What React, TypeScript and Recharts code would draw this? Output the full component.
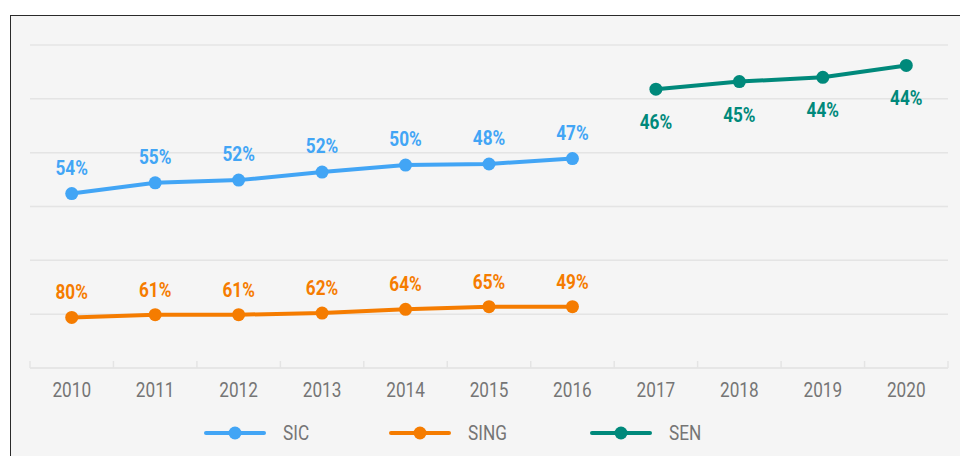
import React from 'react';
import { LineChart, Line, XAxis, YAxis, CartesianGrid, Legend, LabelList } from 'recharts';

const years = ['2010', '2011', '2012', '2013', '2014', '2015', '2016', '2017', '2018', '2019', '2020'];
const sicValues = [32.4, 34.4, 34.9, 36.4, 37.7, 37.9, 38.9, null, null, null, null];
const singValues = [9.4, 9.9, 9.9, 10.2, 10.9, 11.4, 11.4, null, null, null, null];
const senValues = [null, null, null, null, null, null, null, 51.8, 53.2, 54.0, 56.2];
const sicLabels = ['54%', '55%', '52%', '52%', '50%', '48%', '47%', null, null, null, null];
const singLabels = ['80%', '61%', '61%', '62%', '64%', '65%', '49%', null, null, null, null];
const senLabels = [null, null, null, null, null, null, null, '46%', '45%', '44%', '44%'];
const yTicks = [0, 10, 20, 30, 40, 50, 60];
const seriesOrder = ['SIC', 'SING', 'SEN'];

const BLUE = '#42A5F5';
const ORANGE = '#F57C00';
const TEAL = '#00897B';
const GRID = '#e4e4e4';
const TEXT = '#757575';
const SCALE_X = 0.86;

const data = years.map((year, i) => ({
  year,
  SIC: sicValues[i],
  SING: singValues[i],
  SEN: senValues[i],
  sicLabel: sicLabels[i],
  singLabel: singLabels[i],
  senLabel: senLabels[i],
}));

const condensed = (x: number) => `translate(${x} 0) scale(${SCALE_X} 1) translate(${-x} 0)`;

const makeLabel = (color: string, dy: number) => (props: any) => {
  const vb = props.viewBox || {};
  const x = props.x ?? vb.x;
  const y = props.y ?? vb.y;
  const value = props.value;
  if (value == null || x == null || y == null) return null;
  return (
    <text
      x={x}
      y={y + dy}
      textAnchor="middle"
      fill={color}
      fontFamily="Roboto"
      fontWeight={700}
      fontSize={20}
      transform={condensed(x)}
    >
      {value}
    </text>
  );
};

const XTick = (props: any) => {
  const { x, y, payload, index } = props;
  const half = payload && typeof payload.offset === 'number' && payload.offset > 0 ? payload.offset : 41.7;
  return (
    <g>
      <line x1={x - half} x2={x - half} y1={y} y2={y - 7} stroke={GRID} strokeWidth={1.5} />
      {index === years.length - 1 && (
        <line x1={x + half} x2={x + half} y1={y} y2={y - 7} stroke={GRID} strokeWidth={1.5} />
      )}
      <text
        x={x}
        y={y + 29}
        textAnchor="middle"
        fill={TEXT}
        fontFamily="Roboto"
        fontSize={20}
        transform={condensed(x)}
      >
        {payload.value}
      </text>
    </g>
  );
};

const EmptyTick = () => <g />;

const renderLegend = (props: any) => {
  const items = [...(props.payload || [])].sort(
    (a: any, b: any) => seriesOrder.indexOf(a.value) - seriesOrder.indexOf(b.value)
  );
  return (
    <div style={{ display: 'flex', alignItems: 'center', paddingLeft: 204, height: 24 }}>
      {items.map((it: any, i: number) => (
        <div key={i} style={{ display: 'flex', alignItems: 'center', marginRight: 76 }}>
          <svg width={62} height={24} style={{ display: 'block' }}>
            <line x1={2} x2={60} y1={12} y2={12} stroke={it.color} strokeWidth={4} strokeLinecap="round" />
            <circle cx={31} cy={12} r={6.5} fill={it.color} />
          </svg>
          <span
            style={{
              marginLeft: 17,
              fontFamily: 'Roboto',
              fontSize: 20,
              color: TEXT,
              display: 'inline-block',
              transform: `scaleX(${SCALE_X})`,
              transformOrigin: 'left center',
              lineHeight: '24px',
            }}
          >
            {it.value}
          </span>
        </div>
      ))}
    </div>
  );
};

export default function App() {
  return (
    <div style={{ position: 'fixed', left: 0, top: 0, width: 960, height: 456, overflow: 'hidden', background: '#fff' }}>
      <div
        style={{
          position: 'absolute',
          left: 10,
          top: 15,
          width: 980,
          height: 480,
          border: '1px solid #2a2a2a',
          background: '#f5f5f5',
          boxSizing: 'border-box',
        }}
      />
      <div style={{ position: 'absolute', left: 0, top: 0 }}>
        <LineChart width={960} height={456} data={data} margin={{ top: 45, right: 12, bottom: 58, left: 30 }}>
          <CartesianGrid horizontal vertical={false} stroke={GRID} strokeWidth={1.5} />
          <XAxis
            dataKey="year"
            scale="band"
            height={30}
            tickSize={0}
            tickMargin={0}
            tickLine={false}
            axisLine={{ stroke: GRID, strokeWidth: 1.5 }}
            tick={<XTick />}
            interval={0}
          />
          <YAxis
            width={0}
            domain={[0, 60]}
            ticks={yTicks}
            interval={0}
            tick={<EmptyTick />}
            tickLine={false}
            axisLine={{ stroke: GRID, strokeWidth: 1.5 }}
          />
          <Legend
            verticalAlign="middle"
            align="center"
            layout="horizontal"
            content={renderLegend}
            wrapperStyle={{ top: 421, left: 0, width: 960 }}
          />
          <Line
            name="SIC"
            dataKey="SIC"
            stroke={BLUE}
            strokeWidth={4}
            dot={{ r: 6.5, fill: BLUE, stroke: BLUE, strokeWidth: 0 }}
            activeDot={false}
            isAnimationActive={false}
          >
            <LabelList dataKey="sicLabel" content={makeLabel(BLUE, -19)} />
          </Line>
          <Line
            name="SING"
            dataKey="SING"
            stroke={ORANGE}
            strokeWidth={4}
            dot={{ r: 6.5, fill: ORANGE, stroke: ORANGE, strokeWidth: 0 }}
            activeDot={false}
            isAnimationActive={false}
          >
            <LabelList dataKey="singLabel" content={makeLabel(ORANGE, -18)} />
          </Line>
          <Line
            name="SEN"
            dataKey="SEN"
            stroke={TEAL}
            strokeWidth={4}
            dot={{ r: 6.5, fill: TEAL, stroke: TEAL, strokeWidth: 0 }}
            activeDot={false}
            isAnimationActive={false}
          >
            <LabelList dataKey="senLabel" content={makeLabel(TEAL, 40)} />
          </Line>
        </LineChart>
      </div>
    </div>
  );
}
